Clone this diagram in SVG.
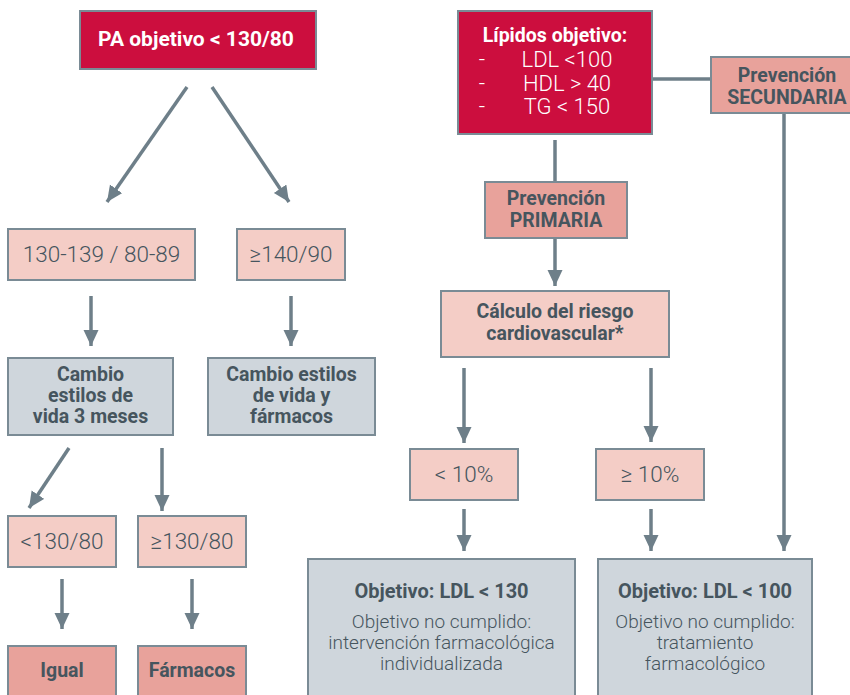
<svg xmlns="http://www.w3.org/2000/svg" width="850" height="695" viewBox="0 0 850 695" font-size="19">
<style>
.b{stroke:#7a8b95;stroke-width:2}
.red{fill:#cc0e3e}
.pk{fill:#f4cdc6}
.sal{fill:#e8a29b}
.gr{fill:#cfd6dc}
text{font-family:Roboto,"Liberation Sans",sans-serif;text-anchor:middle;fill:#46555e;font-weight:300}
.w{fill:#ffffff}
.bd{font-weight:bold}
.c line{stroke:#6e7f89;stroke-width:3.5}
</style>
<defs>
<marker id="ah" markerUnits="userSpaceOnUse" markerWidth="16" markerHeight="18" refX="16" refY="7.5" orient="auto">
<path d="M0,0 L16,7.5 L0,15 Z" fill="#6e7f89"/>
</marker>
</defs>
<rect width="850" height="695" fill="#ffffff"/>
<g class="c">
<line x1="187" y1="87" x2="107" y2="202" marker-end="url(#ah)"/>
<line x1="212" y1="87" x2="289" y2="202" marker-end="url(#ah)"/>
<line x1="91" y1="296" x2="91" y2="346" marker-end="url(#ah)"/>
<line x1="291" y1="296" x2="291" y2="346" marker-end="url(#ah)"/>
<line x1="69" y1="448" x2="29" y2="508" marker-end="url(#ah)"/>
<line x1="162" y1="448" x2="162" y2="511" marker-end="url(#ah)"/>
<line x1="62" y1="579" x2="62" y2="629" marker-end="url(#ah)"/>
<line x1="192" y1="579" x2="192" y2="629" marker-end="url(#ah)"/>
<line x1="652" y1="79" x2="712" y2="79"/>
<line x1="555" y1="140" x2="555" y2="182"/>
<line x1="555" y1="238" x2="555" y2="286" marker-end="url(#ah)"/>
<line x1="464" y1="368" x2="464" y2="443" marker-end="url(#ah)"/>
<line x1="651" y1="368" x2="651" y2="442" marker-end="url(#ah)"/>
<line x1="464" y1="509" x2="464" y2="551" marker-end="url(#ah)"/>
<line x1="651" y1="509" x2="651" y2="551" marker-end="url(#ah)"/>
<line x1="784" y1="113" x2="784" y2="551" marker-end="url(#ah)"/>
</g>
<g id="pa"><rect class="b red" x="80" y="11" width="236" height="58"/><text class="w bd" x="196" y="46" font-size="21">PA objetivo &lt; 130/80</text></g>
<g id="r1"><rect class="b pk" x="8" y="229" width="187" height="51"/><text x="101.5" y="262" font-size="22.5">130-139 / 80-89</text></g>
<g id="r2"><rect class="b pk" x="237" y="229" width="108" height="51"/><text x="291" y="262" font-size="22.5">≥140/90</text></g>
<g id="c1"><rect class="b gr" x="8" y="358" width="165" height="77"/><text class="bd" x="90.5" y="381" font-size="19.5">Cambio</text><text class="bd" x="90.5" y="402" font-size="19.5">estilos de</text><text class="bd" x="90.5" y="423" font-size="19.5">vida 3 meses</text></g>
<g id="c2"><rect class="b gr" x="208" y="358" width="167" height="77"/><text class="bd" x="291.5" y="381" font-size="19.5">Cambio estilos</text><text class="bd" x="291.5" y="402" font-size="19.5">de vida y</text><text class="bd" x="291.5" y="423" font-size="19.5">fármacos</text></g>
<g id="l1"><rect class="b pk" x="8" y="516" width="108" height="51"/><text x="62" y="549" font-size="22.5">&lt;130/80</text></g>
<g id="l2"><rect class="b pk" x="138" y="516" width="108" height="51"/><text x="192" y="549" font-size="22.5">≥130/80</text></g>
<g id="igual"><rect class="b sal" x="8" y="646" width="108" height="55"/><text class="bd" x="62" y="677" font-size="19.5">Igual</text></g>
<g id="farm"><rect class="b sal" x="138" y="646" width="108" height="55"/><text class="bd" x="192" y="677" font-size="19.5">Fármacos</text></g>
<g id="lip"><rect class="b red" x="458" y="11" width="194" height="123"/>
<text class="w bd" x="555" y="42" font-size="19.5">Lípidos objetivo:</text>
<text class="w" x="482" y="67" font-size="22">-</text><text class="w" x="567" y="67" font-size="22">LDL &lt;100</text>
<text class="w" x="482" y="91" font-size="22">-</text><text class="w" x="567" y="91" font-size="22">HDL &gt; 40</text>
<text class="w" x="482" y="114" font-size="22">-</text><text class="w" x="567" y="114" font-size="22">TG &lt; 150</text></g>
<g id="sec"><rect class="b sal" x="711" y="57" width="145" height="56"/><text class="bd" x="787" y="82" font-size="19.5">Prevención</text><text class="bd" x="787" y="104" font-size="19.5">SECUNDARIA</text></g>
<g id="prim"><rect class="b sal" x="485" y="182" width="142" height="56"/><text class="bd" x="556" y="205" font-size="19.5">Prevención</text><text class="bd" x="556" y="227" font-size="19.5">PRIMARIA</text></g>
<g id="calc"><rect class="b pk" x="441" y="291" width="228" height="66"/><text class="bd" x="555" y="318" font-size="19.5">Cálculo del riesgo</text><text class="bd" x="555" y="340" font-size="19.5">cardiovascular*</text></g>
<g id="p1"><rect class="b pk" x="410" y="449" width="108" height="51"/><text x="464" y="482" font-size="22.5">&lt; 10%</text></g>
<g id="p2"><rect class="b pk" x="596" y="449" width="108" height="51"/><text x="650" y="482" font-size="22.5">≥ 10%</text></g>
<g id="o1"><rect class="b gr" x="308" y="559" width="267" height="142"/><text class="bd" x="441.5" y="598" font-size="20">Objetivo: LDL &lt; 130</text><text x="441.5" y="628" font-size="19">Objetivo no cumplido:</text><text x="441.5" y="649" font-size="19">intervención farmacológica</text><text x="441.5" y="670" font-size="19">individualizada</text></g>
<g id="o2"><rect class="b gr" x="598" y="559" width="214" height="142"/><text class="bd" x="705" y="598" font-size="20">Objetivo: LDL &lt; 100</text><text x="705" y="628" font-size="19">Objetivo no cumplido:</text><text x="705" y="649" font-size="19">tratamiento</text><text x="705" y="670" font-size="19">farmacológico</text></g>
</svg>
